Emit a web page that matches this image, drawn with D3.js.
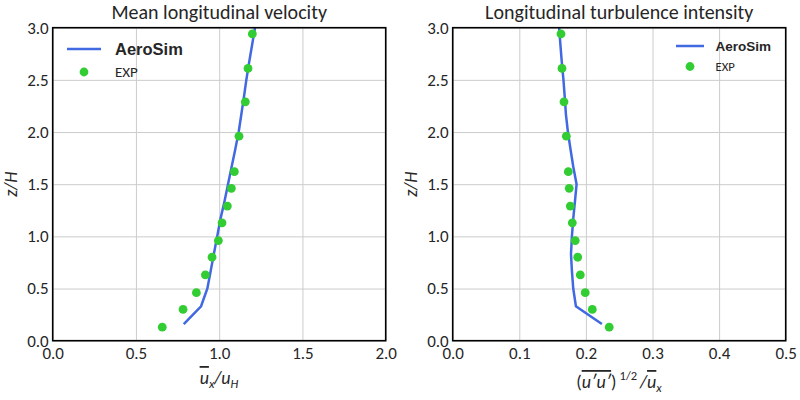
<!DOCTYPE html>
<html><head><meta charset="utf-8">
<script src="https://cdn.jsdelivr.net/npm/d3@7"></script>
<style>
body{margin:0;background:#fff;}
svg text{font-family:Carlito,Lato,"Open Sans",sans-serif;fill:#262626;}
</style></head>
<body><svg id="c" width="800" height="400"></svg>
<script>
// ---- data ----
const expZ = [0.13,0.30,0.46,0.63,0.80,0.96,1.13,1.29,1.46,1.62,1.96,2.29,2.61,2.94];
const expU = [0.658,0.783,0.863,0.917,0.957,0.995,1.017,1.049,1.073,1.091,1.119,1.157,1.173,1.199];
const expTI = [0.235,0.2096,0.199,0.1916,0.1877,0.184,0.1796,0.1766,0.175,0.1736,0.1706,0.1671,0.1641,0.1626];
const simZ = [0.16,0.33,0.50,0.67,0.83,1.00,1.17,1.33,1.50,1.67,1.83,2.00,2.17,2.33,2.50,2.67,2.83,3.00];
const simU = [0.787,0.891,0.929,0.949,0.968,0.988,1.008,1.031,1.053,1.075,1.096,1.117,1.133,1.148,1.163,1.180,1.197,1.215];
const simTI = [0.224,0.185,0.181,0.179,0.1776,0.179,0.181,0.1835,0.186,0.181,0.177,0.173,0.170,0.1683,0.1663,0.1638,0.1618,0.1598];
const zTicks = [0.0,0.5,1.0,1.5,2.0,2.5,3.0];
const uTicks = [0.0,0.5,1.0,1.5,2.0];
const tiTicks = [0.0,0.1,0.2,0.3,0.4,0.5];
const titles = ["Mean longitudinal velocity","Longitudinal turbulence intensity"];
const legendNames = ["AeroSim","EXP"];

const svg = d3.select("#c");
const plotTop = 27.7, plotBottom = 340.7;
const lineColor = "#4169E1", dotColor = "#32CD32";

function panel(x0, x1, xDomain, xTicks, title, simX, expX, L, idx){
  const x = d3.scaleLinear().domain(xDomain).range([x0,x1]);
  const y = d3.scaleLinear().domain([0,3]).range([plotBottom,plotTop]);
  const g = svg.append("g");
  g.append("g").attr("transform",`translate(0,${plotBottom})`)
    .call(d3.axisBottom(x).tickValues(xTicks).tickSize(-(plotBottom-plotTop)).tickFormat(d3.format(".1f")).tickPadding(6))
    .call(a=>{a.select(".domain").remove();
      a.selectAll(".tick line").attr("stroke","#cccccc").attr("stroke-width",1);
      a.selectAll("text").attr("font-size",17).attr("fill","#262626");});
  g.append("g").attr("transform",`translate(${x0},0)`)
    .call(d3.axisLeft(y).tickValues(zTicks).tickSize(-(x1-x0)).tickFormat(d3.format(".1f")).tickPadding(4))
    .call(a=>{a.select(".domain").remove();
      a.selectAll(".tick line").attr("stroke","#cccccc").attr("stroke-width",1);
      a.selectAll("text").attr("font-size",17).attr("fill","#262626");});
  const cid = "clip"+idx;
  svg.append("clipPath").attr("id",cid).append("rect").attr("x",x0).attr("y",plotTop).attr("width",x1-x0).attr("height",plotBottom-plotTop);
  const line = d3.line().x((d,i)=>x(simX[i])).y(d=>y(d));
  g.append("path").datum(simZ).attr("d",line).attr("fill","none").attr("stroke",lineColor).attr("stroke-width",2.5).attr("clip-path",`url(#${cid})`);
  g.selectAll("circle.e").data(expZ).join("circle").attr("class","e")
    .attr("cx",(d,i)=>x(expX[i])).attr("cy",d=>y(d)).attr("r",4.4).attr("fill",dotColor);
  g.append("rect").attr("x",x0).attr("y",plotTop).attr("width",x1-x0).attr("height",plotBottom-plotTop)
    .attr("fill","none").attr("stroke","#000").attr("stroke-width",1.6);
  g.append("text").attr("x",(x0+x1)/2).attr("y",18.5).attr("text-anchor","middle").attr("font-size",20).text(title);
  g.append("text").attr("transform",`translate(${x0-35.5},${(plotTop+plotBottom)/2}) rotate(-90)`)
    .attr("text-anchor","middle").attr("font-size",18).attr("font-style","italic").text("z/H");
  g.append("line").attr("x1",L.lx1).attr("x2",L.lx2).attr("y1",L.ly).attr("y2",L.ly).attr("stroke",lineColor).attr("stroke-width",2.5);
  g.append("text").attr("x",L.tx).attr("y",L.ly).attr("dy","0.35em").attr("font-size",L.f1)
    .style("font-family","'Liberation Sans',Arial,sans-serif").attr("font-weight","bold").text(legendNames[0]);
  g.append("circle").attr("cx",(L.lx1+L.lx2)/2).attr("cy",L.ey).attr("r",4.4).attr("fill",dotColor);
  g.append("text").attr("x",L.tx).attr("y",L.ey).attr("dy","0.35em").attr("font-size",L.f2).text(legendNames[1]);
  return g;
}

const g1 = panel(52.7,385.7,[0,2],uTicks,titles[0],simU,expU,{lx1:67,lx2:101,ly:49,tx:115,ey:72,f1:16.5,f2:15},1);
const g2 = panel(452.7,785.7,[0,0.5],tiTicks,titles[1],simTI,expTI,{lx1:676,lx2:704,ly:46,tx:715.5,ey:66.5,f1:13.5,f2:12.7},2);

const xl1 = g1.append("text").attr("x",219).attr("y",384).attr("text-anchor","middle").attr("font-size",18).attr("font-style","italic");
xl1.append("tspan").attr("text-decoration","overline").text("u");
xl1.append("tspan").attr("font-size",12.5).attr("dy",4).text("x");
xl1.append("tspan").attr("dy",-4).text("/u");
xl1.append("tspan").attr("font-size",12.5).attr("dy",4).text("H");

const xl2 = g2.append("text").attr("x",619).attr("y",388).attr("text-anchor","middle").attr("font-size",18);
xl2.append("tspan").text("(");
xl2.append("tspan").attr("font-style","italic").attr("text-decoration","overline").text("u′u′");
xl2.append("tspan").text(")");
xl2.append("tspan").attr("font-size",12.5).attr("dy",-8).attr("dx",3).text("1/2");
xl2.append("tspan").attr("dy",8).attr("dx",3).attr("font-style","italic").text("/");
xl2.append("tspan").attr("font-style","italic").attr("text-decoration","overline").text("u");
xl2.append("tspan").attr("font-style","italic").attr("font-size",12.5).attr("dy",4).text("x");
</script></body></html>
